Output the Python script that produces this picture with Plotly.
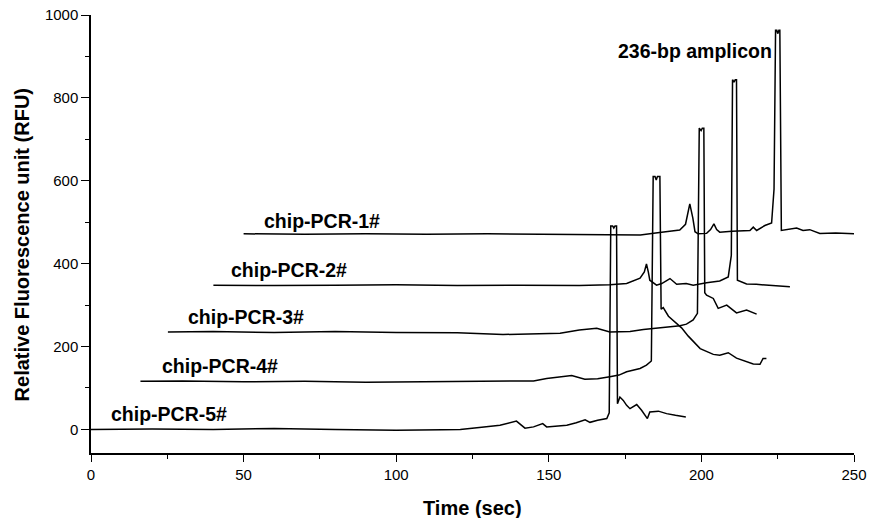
import plotly.graph_objects as go

# Stacked electropherograms of the five chip-PCR products (time in s, signal in RFU,
# each run already shifted in time and intensity for the waterfall display).
t1 = [50, 70, 90, 110, 130, 150, 170, 180, 185, 188.6, 192.9, 194.8, 196.2, 197.2, 197.9,
      198.9, 201.7, 203, 204.1, 205, 206, 210, 215.9, 217, 218.1, 220.8, 223, 223.8, 224.3,
      224.7, 225.0, 225.4, 225.7, 226.2, 228, 231.2, 233.3, 235.5, 238.8, 244, 250.3]
rfu1 = [472, 471, 472, 471, 472, 471, 470, 469, 474, 477, 481, 495, 544, 510, 477,
        472, 473, 482, 496, 482, 476, 478, 480, 488, 480, 492, 498, 580, 963,
        963, 955, 963, 963, 480, 482, 486, 480, 482, 473, 474, 472]

t2 = [40.1, 60, 80, 100, 120, 140, 160, 170, 175.5, 179.9, 181.3, 182, 182.6, 183.1, 185.3,
      187, 189.7, 191.9, 195, 197.3, 201.7, 204, 206, 208.8, 209.8, 210.2, 210.7, 211.1,
      211.5, 211.8, 214.8, 218, 221.3, 225, 229]
rfu2 = [348, 347, 348, 349, 347, 348, 347, 349, 352, 365, 380, 399, 380, 360, 348,
        352, 364, 350, 352, 348, 354, 357, 358, 368, 420, 844, 838, 844,
        844, 360, 351, 350, 348, 346, 344]

t3 = [25.2, 40, 60, 80, 100, 120, 135, 145, 153.7, 160, 165.7, 170, 176.6, 181, 186, 189.7,
      193, 195.1, 197.3, 198.7, 199.3, 199.9, 200.3, 200.8, 201.1, 201.7, 203.9, 205.5,
      208.3, 211.5, 214.8, 218.1]
rfu3 = [235, 236, 234, 236, 234, 233, 229, 230, 232, 240, 244, 235, 236, 241, 244, 248,
        250, 254, 264, 280, 727, 721, 727, 727, 330, 324, 316, 292,
        300, 281, 288, 278]

t4 = [16.2, 30, 50, 70, 90, 110, 130, 145, 149.3, 153.6, 157.5, 161.8, 166, 170, 173,
      175.5, 179.9, 182, 183.6, 184.2, 184.8, 185.2, 185.6, 186.4, 186.8, 187.5, 189.2,
      193.5, 195.7, 199.6, 203.9, 206, 208.8, 211.5, 214.8, 217, 219.2, 220.2, 221.3]
rfu4 = [116, 117, 115, 116, 114, 115, 116, 117, 123, 127, 130, 121, 122, 127, 131,
        139, 147, 155, 165, 610, 610, 602, 610, 610, 290, 294, 273,
        245, 225, 195, 181, 179, 185, 172, 163, 158, 157, 171, 171]

t5 = [0, 20, 40, 60, 80, 100, 115, 121, 128, 134, 139.4, 142.2, 145, 148, 149.3, 152,
      155.9, 159, 161.9, 163.5, 166, 169, 169.8, 170.3, 170.9, 171.3, 171.7, 172.2, 172.5,
      173.3, 174.4, 175.5, 176.6, 178.8, 180.4, 182.3, 183.1, 185.9, 188.6, 191.5, 194.9]
rfu5 = [0, 1, 0, 2, 0, -2, -1, 0, 5, 10, 20, 3, 6, 14, 6, 8,
        10, 16, 23, 17, 22, 26, 40, 491, 491, 486, 491, 491, 62,
        78, 70, 58, 50, 60, 46, 26, 42, 44, 38, 34, 30]

run_names = ["chip-PCR-1#", "chip-PCR-2#", "chip-PCR-3#", "chip-PCR-4#", "chip-PCR-5#"]
label_x = [75.7, 64.8, 50.7, 42.2, 25.6]
label_y = [502, 385, 271, 153, 38]

peak_label = "236-bp amplicon"
peak_label_x = 197.9
peak_label_y = 913

y_title = "Relative Fluorescence unit (RFU)"
x_title = "Time (sec)"

runs = [(t1, rfu1), (t2, rfu2), (t3, rfu3), (t4, rfu4), (t5, rfu5)]

fig = go.Figure()
for name, (t, r) in zip(run_names, runs):
    fig.add_trace(go.Scatter(x=t, y=r, mode="lines", name=name,
                             line=dict(color="black", width=1.5), showlegend=False))

label_font = dict(family="Arial, Liberation Sans, sans-serif", size=19.5, color="black")
for name, lx, ly in zip(run_names, label_x, label_y):
    fig.add_annotation(x=lx, y=ly, text=f"<b>{name}</b>", showarrow=False,
                       xanchor="center", yanchor="middle", font=label_font)
fig.add_annotation(x=peak_label_x, y=peak_label_y, text=f"<b>{peak_label}</b>",
                   showarrow=False, xanchor="center", yanchor="middle", font=label_font)

title_font = dict(family="Arial, Liberation Sans, sans-serif", size=20, color="black")
fig.add_annotation(xref="paper", yref="paper", x=-0.0904, y=0.474,
                   text=f"<b>{y_title}</b>", textangle=-90, showarrow=False,
                   xanchor="center", yanchor="middle", font=title_font)
fig.add_annotation(xref="paper", yref="paper", x=0.5, y=-0.1246,
                   text=f"<b>{x_title}</b>", showarrow=False,
                   xanchor="center", yanchor="middle", font=title_font)

tick_font = dict(family="Arial, Liberation Sans, sans-serif", size=15, color="black")
fig.update_xaxes(range=[0, 250], tickmode="linear", tick0=0, dtick=50, automargin=False,
                 showline=True, linecolor="black", linewidth=1.5,
                 ticks="outside", ticklen=7, tickwidth=1.2, tickcolor="black",
                 minor=dict(ticks="outside", dtick=25, ticklen=4, tickcolor="black"),
                 showgrid=False, zeroline=False, tickfont=tick_font)
fig.update_yaxes(range=[-57, 1000], tickmode="linear", tick0=0, dtick=200, automargin=False,
                 showline=True, linecolor="black", linewidth=1.5,
                 ticks="outside", ticklen=8, tickwidth=1.2, tickcolor="black",
                 minor=dict(ticks="outside", dtick=100, ticklen=4, tickcolor="black"),
                 showgrid=False, zeroline=False, tickfont=tick_font)

fig.update_layout(width=871, height=518, margin=dict(l=91, r=17, t=15, b=65),
                  plot_bgcolor="white", paper_bgcolor="white")

fig.write_html("out.html")
